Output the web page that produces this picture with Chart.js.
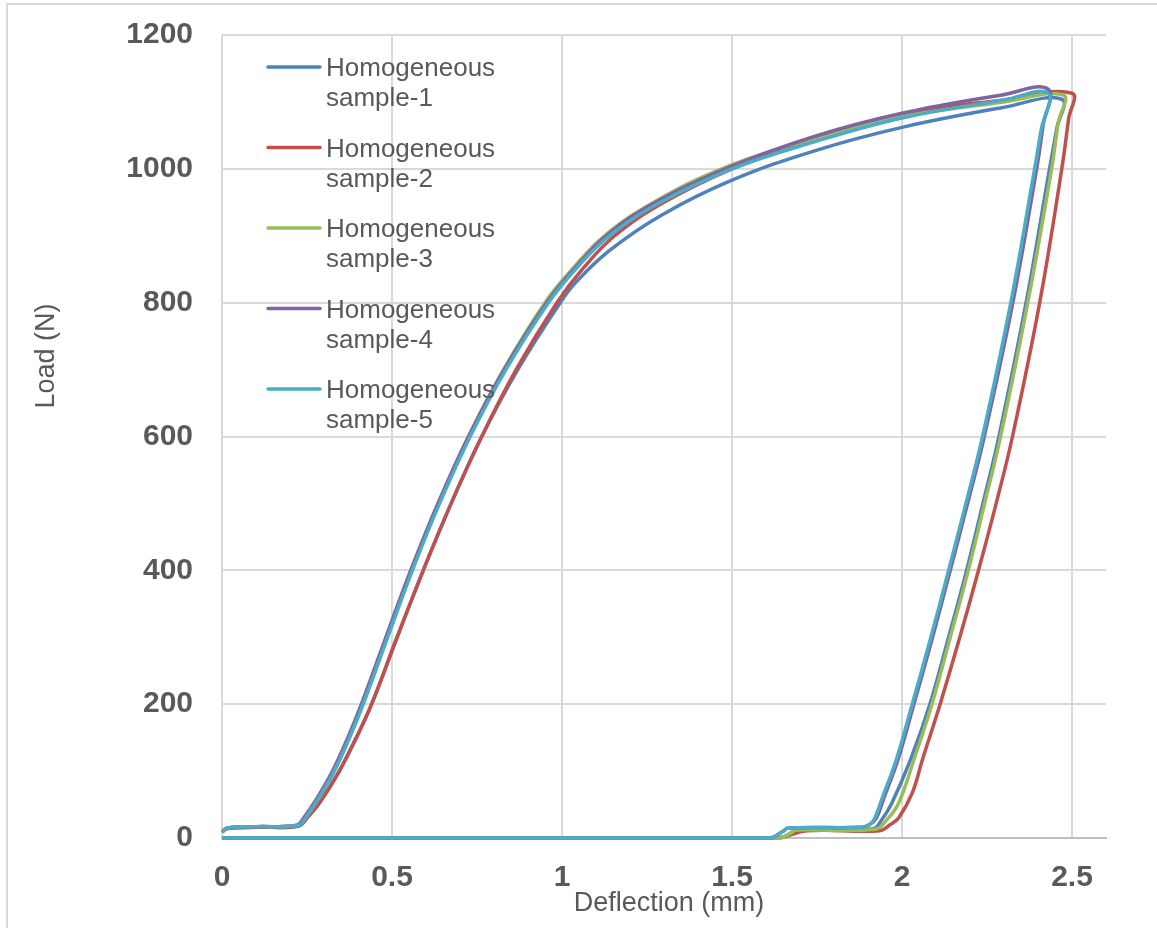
<!DOCTYPE html>
<html>
<head>
<meta charset="utf-8">
<title>Load vs deflection</title>
<script src="https://cdn.jsdelivr.net/npm/chart.js@4.4.0/dist/chart.umd.min.js"></script>
<style>
  html, body { margin: 0; padding: 0; background: #fff; }
</style>
</head>
<body>
<canvas id="loadChart" width="1157" height="928"></canvas>
<script>
// Load-deflection loops: loading branch, unloading branch, return along zero
const sampleNames = ['Homogeneous sample-1', 'Homogeneous sample-2', 'Homogeneous sample-3',
                     'Homogeneous sample-4', 'Homogeneous sample-5'];
const sampleColors = ['#4F81BD', '#C0504D', '#9BBB59', '#8064A2', '#4BACC6'];

const defl1 = [0, 0.015, 0.1, 0.225, 0.25, 0.29, 0.345, 0.395, 0.44, 0.515, 0.592, 0.674, 0.764, 0.87, 0.995, 1.04, 1.14, 1.29, 1.5, 1.75, 2.0, 2.29, 2.47,
               2.455, 2.434, 2.365, 2.285, 2.238, 2.19, 2.137, 2.082, 2.025, 1.97, 1.94, 1.915, 1.69, 1.675, 1.64, 0];
const load1 = [9, 14, 16, 18, 30, 55, 100, 150, 200, 300, 400, 500, 600, 700, 800, 830, 878, 930, 983, 1028, 1062, 1091, 1104,
               1060, 1000, 800, 600, 500, 400, 300, 200, 117, 52, 27, 14, 13, 8, 0, 0];

const defl2 = [0, 0.015, 0.1, 0.225, 0.25, 0.29, 0.345, 0.395, 0.44, 0.515, 0.592, 0.674, 0.764, 0.865, 0.985, 1.06, 1.155, 1.3, 1.5, 1.74, 2.0, 2.3, 2.5,
               2.49, 2.47, 2.405, 2.325, 2.277, 2.225, 2.17, 2.112, 2.06, 2.03, 1.99, 1.965, 1.935, 1.72, 1.63, 0];
const load2 = [9, 14, 16, 18, 30, 55, 100, 150, 200, 300, 400, 500, 600, 700, 800, 850, 900, 950, 1000, 1045, 1082, 1103, 1113,
               1075, 1000, 800, 600, 500, 400, 300, 200, 117, 67, 30, 20, 11, 11, 0, 0];

const defl3 = [0, 0.015, 0.1, 0.225, 0.245, 0.285, 0.33, 0.375, 0.415, 0.487, 0.558, 0.637, 0.725, 0.828, 0.95, 1.03, 1.125, 1.27, 1.47, 1.74, 2.0, 2.3, 2.475,
               2.46, 2.44, 2.37, 2.29, 2.243, 2.195, 2.142, 2.088, 2.035, 1.99, 1.955, 1.92, 1.69, 1.675, 1.64, 0];
const load3 = [9, 15, 17, 19, 30, 60, 100, 150, 200, 300, 400, 500, 600, 700, 800, 850, 900, 950, 1000, 1045, 1078, 1100, 1110,
               1070, 1000, 800, 600, 500, 400, 300, 200, 117, 52, 27, 13, 12, 8, 0, 0];

const defl4 = [0, 0.015, 0.1, 0.22, 0.24, 0.28, 0.325, 0.37, 0.41, 0.482, 0.555, 0.635, 0.725, 0.83, 0.955, 1.035, 1.13, 1.275, 1.48, 1.74, 2.0, 2.29, 2.43,
               2.415, 2.396, 2.326, 2.242, 2.193, 2.142, 2.09, 2.035, 1.99, 1.945, 1.925, 1.905, 1.88, 1.665, 1.65, 1.61, 0];
const load4 = [9, 15, 17, 19, 30, 60, 100, 150, 200, 300, 400, 500, 600, 700, 800, 850, 900, 950, 1000, 1048, 1083, 1110, 1119,
               1065, 1000, 800, 600, 500, 400, 300, 200, 120, 57, 30, 20, 16, 15, 10, 0, 0];

const defl5 = [0, 0.015, 0.1, 0.225, 0.245, 0.285, 0.33, 0.375, 0.415, 0.487, 0.56, 0.64, 0.73, 0.835, 0.96, 1.04, 1.14, 1.29, 1.5, 1.74, 2.0, 2.3, 2.43,
               2.41, 2.39, 2.32, 2.237, 2.188, 2.137, 2.085, 2.03, 1.985, 1.94, 1.92, 1.905, 1.88, 1.665, 1.65, 1.61, 0];
const load5 = [9, 15, 17, 19, 30, 60, 100, 150, 200, 300, 400, 500, 600, 700, 800, 850, 900, 950, 1000, 1040, 1076, 1103, 1113,
               1060, 1000, 800, 600, 500, 400, 300, 200, 120, 57, 30, 20, 16, 15, 10, 0, 0];

const xTicks = [0, 0.5, 1, 1.5, 2, 2.5];
const deflections = [defl1, defl2, defl3, defl4, defl5];
const loads = [load1, load2, load3, load4, load5];

const fontFamily = '"Liberation Sans", Arial, sans-serif';
const textColor = '#595959';

const datasets = sampleNames.map(function (name, i) {
    return {
        label: name,
        data: deflections[i].map(function (x, k) { return { x: x, y: loads[i][k] }; }),
        borderColor: sampleColors[i],
        backgroundColor: sampleColors[i],
        borderWidth: 3.5,
        pointRadius: 0,
        showLine: true,
        tension: 0.4,
        fill: false,
        clip: false,
        order: sampleNames.length - i   // later samples drawn on top
    };
});

// frame, legend and axis titles
const decorations = {
    id: 'decorations',
    beforeDraw(chart) {
        const ctx = chart.ctx;
        ctx.save();
        ctx.fillStyle = '#fff';
        ctx.fillRect(0, 0, chart.width, chart.height);
        ctx.strokeStyle = '#d9d9d9';
        ctx.lineWidth = 2;
        ctx.strokeRect(7, 4, chart.width + 20, chart.height + 20);
        ctx.restore();
    },
    afterDraw(chart) {
        const ctx = chart.ctx;
        ctx.save();
        ctx.fillStyle = textColor;
        ctx.font = '26px ' + fontFamily;
        ctx.textAlign = 'left';
        ctx.textBaseline = 'alphabetic';
        chart.data.datasets.forEach(function (ds, i) {
            const y = 67 + i * 80.5;
            ctx.strokeStyle = ds.borderColor;
            ctx.lineWidth = 3.5;
            ctx.lineCap = 'round';
            ctx.beginPath();
            ctx.moveTo(268, y);
            ctx.lineTo(320, y);
            ctx.stroke();
            const words = ds.label.split(' ');
            ctx.fillText(words[0], 326, y + 9);
            ctx.fillText(words.slice(1).join(' '), 326, y + 39);
        });

        ctx.font = '27px ' + fontFamily;
        ctx.textAlign = 'center';
        ctx.fillText('Deflection (mm)', 669, 911);

        ctx.translate(54, 356);
        ctx.rotate(-Math.PI / 2);
        ctx.fillText('Load (N)', 0, 0);
        ctx.restore();
    }
};

new Chart(document.getElementById('loadChart'), {
    type: 'scatter',
    data: { datasets: datasets },
    options: {
        responsive: false,
        animation: false,
        events: [],
        layout: { padding: { top: 35, right: 51, left: 0, bottom: 0 } },
        plugins: {
            legend: { display: false },
            tooltip: { enabled: false }
        },
        scales: {
            x: {
                type: 'linear',
                min: 0,
                max: 2.6,
                afterBuildTicks: function (scale) {
                    scale.ticks = xTicks.map(function (v) { return { value: v }; });
                },
                afterFit: function (scale) { scale.height = 90; },
                ticks: {
                    color: textColor,
                    font: { family: fontFamily, size: 30, weight: 'bold' },
                    padding: 22,
                    maxRotation: 0,
                    callback: function (v) { return String(v); }
                },
                grid: { color: '#d9d9d9', lineWidth: 2, drawTicks: false },
                border: { color: '#bfbfbf', width: 2 }
            },
            y: {
                min: 0,
                max: 1200,
                afterFit: function (scale) {
                    scale.width = 222;
                    scale.paddingTop = 0;
                    scale.paddingBottom = 0;
                },
                ticks: {
                    stepSize: 200,
                    color: textColor,
                    font: { family: fontFamily, size: 30, weight: 'bold' },
                    padding: 29,
                    callback: function (v) { return String(v); }
                },
                grid: {
                    color: function (c) { return c.tick && c.tick.value === 0 ? 'rgba(0,0,0,0)' : '#d9d9d9'; },
                    lineWidth: 2,
                    drawTicks: false
                },
                border: { display: false }
            }
        }
    },
    plugins: [decorations]
});
</script>
</body>
</html>
